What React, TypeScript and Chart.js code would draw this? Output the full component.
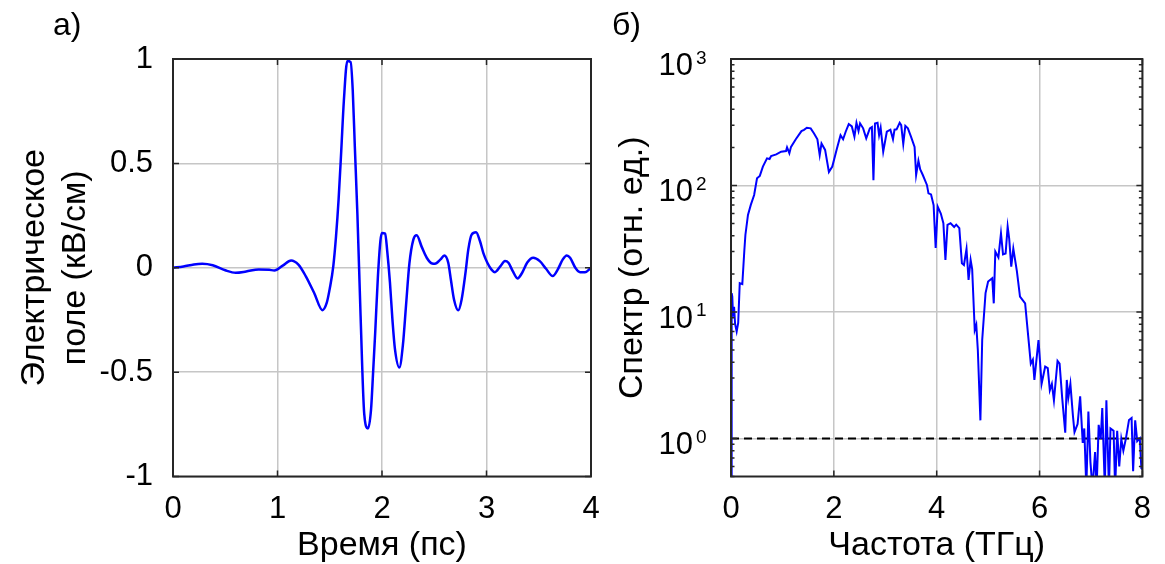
import React, { useEffect, useRef } from 'react';
import { Chart, registerables } from 'chart.js';

Chart.register(...registerables);

const FONT = '"Liberation Sans", Arial, Helvetica, sans-serif';

// ---- Panel а): electric field vs time ----
const timePs = [
  0, 0.1, 0.2, 0.28, 0.38, 0.5, 0.6, 0.7, 0.82, 0.92, 0.97, 1.05, 1.13, 1.2, 1.27, 1.35,
  1.43, 1.47, 1.5, 1.534, 1.56, 1.585, 1.61, 1.635, 1.668, 1.7, 1.72, 1.74, 1.765, 1.795,
  1.83, 1.866, 1.895, 1.915, 1.935, 1.96, 1.985, 2.0, 2.03, 2.05, 2.076, 2.1, 2.124, 2.166,
  2.2, 2.23, 2.262, 2.3, 2.332, 2.38, 2.428, 2.48, 2.507, 2.56, 2.596, 2.634, 2.66, 2.689,
  2.73, 2.762, 2.8, 2.826, 2.858, 2.9, 2.938, 2.97, 3.008, 3.05, 3.081, 3.13, 3.177, 3.21,
  3.25, 3.297, 3.34, 3.39, 3.447, 3.51, 3.57, 3.634, 3.68, 3.73, 3.768, 3.8, 3.85, 3.895,
  3.943, 4.0,
];
const fieldKvCm = [
  0, 0.006, 0.016, 0.019, 0.012, -0.012, -0.024, -0.018, -0.008, -0.01, -0.013, 0.01, 0.035, 0.015, -0.04, -0.12,
  -0.203, -0.17, -0.1, 0.008, 0.15, 0.33, 0.56, 0.8, 0.99, 0.985, 0.85, 0.58, 0.25, -0.23,
  -0.7, -0.77, -0.68, -0.5, -0.31, -0.05, 0.13, 0.167, 0.164, 0.08, -0.07, -0.25, -0.39, -0.478,
  -0.37, -0.18, 0.02, 0.135, 0.156, 0.1, 0.048, 0.02, 0.019, 0.04, 0.059, 0.024, -0.06, -0.152,
  -0.204, -0.152, -0.02, 0.088, 0.159, 0.17, 0.127, 0.07, 0.024, -0.01, -0.021, 0.005, 0.032, 0.024,
  -0.015, -0.051, -0.025, 0.025, 0.048, 0.032, -0.005, -0.04, -0.01, 0.04, 0.059, 0.048, 0.0, -0.021,
  -0.021, 0.0,
];
const timeRange = [0, 4];
const fieldRange = [-1, 1];

// ---- Panel б): spectrum vs frequency ----
const freqTHz = [
  0, 0.013, 0.025, 0.04, 0.06, 0.08, 0.11, 0.14, 0.17, 0.22, 0.26, 0.28, 0.33, 0.385, 0.45, 0.506,
  0.56, 0.62, 0.7, 0.75, 0.78, 0.88, 0.975, 1.07, 1.09, 1.135, 1.167, 1.26, 1.37, 1.42, 1.475,
  1.55, 1.615, 1.68, 1.725, 1.76, 1.83, 1.904, 1.97, 2.06, 2.13, 2.18, 2.23, 2.29, 2.35, 2.4,
  2.44, 2.48, 2.51, 2.57, 2.63, 2.7, 2.74, 2.77, 2.8, 2.85, 2.88, 2.91, 2.96, 3.03, 3.1, 3.15,
  3.18, 3.22, 3.28, 3.31, 3.35, 3.39, 3.44, 3.5, 3.57, 3.6, 3.645, 3.68, 3.73, 3.81, 3.84, 3.89,
  3.94, 3.98, 4.02, 4.08, 4.13, 4.17, 4.21, 4.27, 4.34, 4.38, 4.44, 4.49, 4.53, 4.58, 4.62, 4.66,
  4.69, 4.74, 4.77, 4.8, 4.85, 4.885, 4.95, 5.0, 5.08, 5.11, 5.14, 5.2, 5.25, 5.29, 5.34, 5.38,
  5.41, 5.45, 5.49, 5.56, 5.62, 5.72, 5.78, 5.83, 5.87, 5.9, 5.98, 6.04, 6.11, 6.16, 6.2, 6.24,
  6.28, 6.35, 6.39, 6.44, 6.5, 6.53, 6.56, 6.6, 6.65, 6.68, 6.74, 6.79, 6.84, 6.87, 6.91, 6.95,
  6.99, 7.03, 7.08, 7.11, 7.15, 7.19, 7.22, 7.27, 7.3, 7.35, 7.38, 7.44, 7.47, 7.51, 7.55, 7.59,
  7.63, 7.68, 7.74, 7.79, 7.82, 7.86, 7.9, 7.95, 7.98, 8.0,
];
const spectrum = [
  0.3, 14.1, 13.2, 9.2, 11, 8, 7.0, 8.2, 16.9, 16.6, 30.9, 40.6, 58.5, 70.2, 84.1, 114,
  119, 141, 164, 162, 171, 176, 185, 187, 200, 180, 202, 232, 269, 275, 286,
  283, 258, 232, 174, 215, 191, 128, 141, 196, 250, 232, 266, 306, 293, 243,
  313, 270, 310, 283, 236, 283, 290, 110, 309, 313, 250, 286, 185, 266, 276, 232,
  276, 278, 313, 300, 213, 296, 283, 243, 202, 121, 157, 134, 121, 101, 86.7, 85,
  70, 32, 68, 60, 50.3, 25.8, 48.8, 50.3, 47, 49, 46, 24.3, 23.5, 31.5, 17.9, 25.8,
  21.8, 7.2, 7.9, 5.0, 1.39, 6.0, 14.1, 17.4, 18.5, 11.7, 30, 27, 41.9, 28.5, 29, 47.3,
  38, 22.8, 31.7, 20.9, 13.2, 11.7, 6.4, 3.9, 4.2, 2.9, 6.0, 2.7, 3.7, 3.6, 2.4, 2.7,
  2.0, 4.1, 3.9, 2.1, 1.11, 2.9, 2.1, 2.7, 1.5, 1.12, 1.3, 2.15, 0.92, 1.2, 0.4, 1.63,
  0.65, 0.4, 0.78, 0.4, 1.28, 0.99, 1.74, 0.4, 2.0, 0.4, 1.2, 1.15, 0.4, 1.15, 0.6, 0.99,
  0.8, 1.0, 1.4, 1.45, 0.55, 1.39, 0.95, 1.0, 0.58, 0.57,
];
const freqRange = [0, 8];
const spectrumRange = [0.5, 1000];
const spectrumDecades = [1, 10, 100, 1000];
const referenceLevel = 1;

const BLUE = '#0000ff';
const AXIS = '#262626';
const GRID = '#c6c6c6';
const TICK_FONT = 31;
const TITLE_FONT = 34;

type FrameOpts = {
  label: string;
  labelX: number;
  labelY: number;
  logY?: boolean;
};

function framePlugin(o: FrameOpts) {
  return {
    id: 'frame',
    afterDraw(chart: any) {
      const { ctx, chartArea: a, scales } = chart;
      const xs = scales.x;
      const ys = scales.y;
      ctx.save();
      ctx.strokeStyle = AXIS;
      ctx.lineWidth = 1.5;
      const tl = 6;
      ctx.beginPath();
      xs.ticks.forEach((t: any) => {
        const px = xs.getPixelForValue(t.value);
        ctx.moveTo(px, a.bottom);
        ctx.lineTo(px, a.bottom - tl);
        ctx.moveTo(px, a.top);
        ctx.lineTo(px, a.top + tl);
      });
      ys.ticks.forEach((t: any) => {
        const py = ys.getPixelForValue(t.value);
        ctx.moveTo(a.left, py);
        ctx.lineTo(a.left + tl, py);
        ctx.moveTo(a.right, py);
        ctx.lineTo(a.right - tl, py);
      });
      if (o.logY) {
        const [mn, mx] = spectrumRange;
        [0.1, 1, 10, 100].forEach((d) => {
          for (let k = 2; k <= 9; k++) {
            const v = d * k;
            if (v < mn || v > mx) continue;
            const py = ys.getPixelForValue(v);
            ctx.moveTo(a.left, py);
            ctx.lineTo(a.left + 3.5, py);
            ctx.moveTo(a.right, py);
            ctx.lineTo(a.right - 3.5, py);
          }
        });
      }
      ctx.stroke();
      ctx.lineWidth = 2;
      ctx.strokeRect(a.left, a.top, a.right - a.left, a.bottom - a.top);

      ctx.fillStyle = '#000';
      ctx.textAlign = 'left';
      ctx.textBaseline = 'alphabetic';
      ctx.font = `32px ${FONT}`;
      ctx.fillText(o.label, o.labelX, o.labelY);

      if (o.logY) {
        spectrumDecades.forEach((v) => {
          const py = ys.getPixelForValue(v);
          const exp = Math.round(Math.log10(v));
          ctx.font = `${TICK_FONT}px ${FONT}`;
          ctx.textAlign = 'right';
          ctx.fillText('10', a.left - 38, py + 16);
          ctx.font = `19px ${FONT}`;
          ctx.textAlign = 'left';
          ctx.fillText(String(exp), a.left - 35, py + 4.5);
        });
      }
      ctx.restore();
    },
  };
}

function fieldConfig(): any {
  return {
    type: 'line',
    data: {
      datasets: [
        {
          data: timePs.map((t, i) => ({ x: t, y: fieldKvCm[i] })),
          borderColor: BLUE,
          borderWidth: 2.5,
          pointRadius: 0,
          cubicInterpolationMode: 'monotone',
          fill: false,
        },
      ],
    },
    options: {
      animation: false,
      responsive: false,
      devicePixelRatio: 1,
      layout: { padding: { left: 0, top: 59, right: 29, bottom: 0 } },
      plugins: { legend: { display: false }, tooltip: { enabled: false } },
      scales: {
        x: {
          type: 'linear',
          min: timeRange[0],
          max: timeRange[1],
          ticks: { stepSize: 1, padding: 14, color: '#000', font: { family: FONT, size: TICK_FONT }, callback: (v: number) => String(v) },
          grid: { color: GRID, lineWidth: 1.5, drawTicks: false },
          border: { display: false },
          title: { display: true, text: 'Время (пс)', color: '#000', font: { family: FONT, size: TITLE_FONT, lineHeight: 1.1 }, padding: { top: 0, bottom: 0 } },
          afterFit: (s: any) => { s.height = 87.5; },
        },
        y: {
          type: 'linear',
          min: fieldRange[0],
          max: fieldRange[1],
          ticks: { stepSize: 0.5, padding: 20, color: '#000', font: { family: FONT, size: TICK_FONT }, callback: (v: number) => String(v) },
          grid: { color: GRID, lineWidth: 1.5, drawTicks: false },
          border: { display: false },
          title: { display: true, text: ['Электрическое', 'поле (кВ/см)'], color: '#000', font: { family: FONT, size: TITLE_FONT }, padding: { top: 14, bottom: 0 } },
          afterFit: (s: any) => { s.width = 173; },
        },
      },
    },
    plugins: [framePlugin({ label: 'а)', labelX: 53, labelY: 35 })],
  };
}

function spectrumConfig(): any {
  return {
    type: 'line',
    data: {
      datasets: [
        {
          data: freqTHz.map((f, i) => ({ x: f, y: spectrum[i] })),
          borderColor: BLUE,
          borderWidth: 2,
          pointRadius: 0,
          tension: 0,
          fill: false,
          order: 1,
        },
        {
          data: [
            { x: freqRange[0], y: referenceLevel },
            { x: freqRange[1], y: referenceLevel },
          ],
          borderColor: '#000',
          borderWidth: 2,
          borderDash: [8, 5],
          pointRadius: 0,
          fill: false,
          order: 2,
        },
      ],
    },
    options: {
      animation: false,
      responsive: false,
      devicePixelRatio: 1,
      layout: { padding: { left: 0, top: 59, right: 18, bottom: 0 } },
      plugins: { legend: { display: false }, tooltip: { enabled: false } },
      scales: {
        x: {
          type: 'linear',
          min: freqRange[0],
          max: freqRange[1],
          ticks: { stepSize: 2, padding: 14, color: '#000', font: { family: FONT, size: TICK_FONT }, callback: (v: number) => String(v) },
          grid: { color: GRID, lineWidth: 1.5, drawTicks: false },
          border: { display: false },
          title: { display: true, text: 'Частота (ТГц)', color: '#000', font: { family: FONT, size: TITLE_FONT, lineHeight: 1.1 }, padding: { top: 0, bottom: 0 } },
          afterFit: (s: any) => { s.height = 87.5; },
        },
        y: {
          type: 'logarithmic',
          min: spectrumRange[0],
          max: spectrumRange[1],
          ticks: { display: false },
          afterBuildTicks: (s: any) => { s.ticks = spectrumDecades.map((v) => ({ value: v })); },
          grid: { color: GRID, lineWidth: 1.5, drawTicks: false },
          border: { display: false },
          title: { display: true, text: 'Спектр (отн. ед.)', color: '#000', font: { family: FONT, size: TITLE_FONT }, padding: { top: 12, bottom: 0 } },
          afterFit: (s: any) => { s.width = 131; },
        },
      },
    },
    plugins: [framePlugin({ label: 'б)', labelX: 12, labelY: 35, logY: true })],
  };
}

function ChartCanvas({ make, width, height, left }: { make: () => any; width: number; height: number; left: number }) {
  const ref = useRef<HTMLCanvasElement | null>(null);
  useEffect(() => {
    if (!ref.current) return;
    const chart = new Chart(ref.current, make());
    return () => chart.destroy();
  }, [make]);
  return (
    <canvas
      ref={ref}
      width={width}
      height={height}
      style={{ position: 'absolute', left, top: 0, width, height }}
    />
  );
}

export default function App() {
  return (
    <div style={{ position: 'fixed', left: 0, top: 0, width: 1165, height: 564, background: '#fff', overflow: 'hidden' }}>
      <ChartCanvas make={fieldConfig} width={620} height={564} left={0} />
      <ChartCanvas make={spectrumConfig} width={565} height={564} left={600} />
    </div>
  );
}
